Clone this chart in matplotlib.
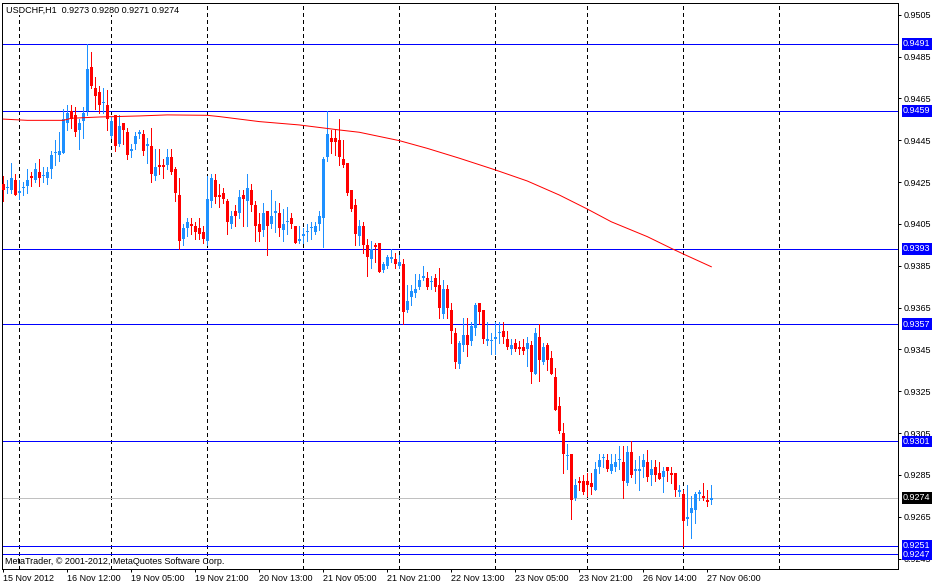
import matplotlib
matplotlib.use('Agg')
import matplotlib.pyplot as plt
import numpy as np
from matplotlib.transforms import blended_transform_factory

plt.rcParams['font.family'] = ['Liberation Sans', 'DejaVu Sans']

title_text = 'USDCHF,H1  0.9273 0.9280 0.9271 0.9274'
copyright_text = 'MetaTrader, © 2001-2012, MetaQuotes Software Corp.'

# hourly bars, 15 Nov 2012 20:00 .. 27 Nov 2012 07:00
opens = [0.9424, 0.9422, 0.9421, 0.9426, 0.9420, 0.9422, 0.9423, 0.9428, 0.9426, 0.9430,
         0.9428, 0.9427, 0.9431, 0.9439, 0.9438, 0.9439, 0.9453, 0.9459, 0.9457, 0.9450,
         0.9454, 0.9459, 0.9480, 0.9470, 0.9468, 0.9463, 0.9462, 0.9447, 0.9457, 0.9443,
         0.9453, 0.9449, 0.9440, 0.9443, 0.9448, 0.9448, 0.9442, 0.9442, 0.9428, 0.9433,
         0.9433, 0.9433, 0.9437, 0.9431, 0.9419, 0.9398, 0.9403, 0.9405, 0.9404, 0.9403,
         0.9401, 0.9397, 0.9416, 0.9426, 0.9419, 0.9420, 0.9416, 0.9405, 0.9411, 0.9410,
         0.9419, 0.9416, 0.9421, 0.9414, 0.9405, 0.9402, 0.9411, 0.9405, 0.9410, 0.9410,
         0.9402, 0.9406, 0.9408, 0.9404, 0.9397, 0.9399, 0.9401, 0.9403, 0.9401, 0.9405,
         0.9408, 0.9437, 0.9446, 0.9446, 0.9445, 0.9436, 0.9434, 0.9421, 0.9414, 0.9399,
         0.9404, 0.9395, 0.9388, 0.9395, 0.9396, 0.9383, 0.9385, 0.9388, 0.9388, 0.9385,
         0.9386, 0.9364, 0.9370, 0.9372, 0.9375, 0.9379, 0.9379, 0.9377, 0.9379, 0.9376,
         0.9362, 0.9374, 0.9364, 0.9353, 0.9338, 0.9347, 0.9352, 0.9349, 0.9355, 0.9367,
         0.9364, 0.9349, 0.9349, 0.9350, 0.9353, 0.9354, 0.9350, 0.9345, 0.9348, 0.9346,
         0.9346, 0.9345, 0.9347, 0.9333, 0.9351, 0.9339, 0.9347, 0.9341, 0.9332, 0.9318,
         0.9305, 0.9294, 0.9295, 0.9274, 0.9282, 0.9282, 0.9282, 0.9281, 0.9278, 0.9289,
         0.9293, 0.9292, 0.9287, 0.9289, 0.9292, 0.9291, 0.9281, 0.9296, 0.9287, 0.9287,
         0.9289, 0.9291, 0.9285, 0.9289, 0.9286, 0.9284, 0.9289, 0.9286, 0.9286, 0.9277,
         0.9276, 0.9264, 0.9267, 0.9268, 0.9276, 0.9275, 0.9273, 0.9273]
highs = [0.9428, 0.9426, 0.9434, 0.9429, 0.9426, 0.9425, 0.9431, 0.9430, 0.9434, 0.9436,
         0.9432, 0.9432, 0.9440, 0.9445, 0.9449, 0.9460, 0.9462, 0.9462, 0.9461, 0.9455,
         0.9461, 0.9491, 0.9487, 0.9475, 0.9471, 0.9470, 0.9469, 0.9456, 0.9457, 0.9457,
         0.9453, 0.9451, 0.9443, 0.9449, 0.9450, 0.9450, 0.9446, 0.9451, 0.9441, 0.9441,
         0.9436, 0.9441, 0.9441, 0.9432, 0.9427, 0.9405, 0.9408, 0.9408, 0.9406, 0.9408,
         0.9404, 0.9428, 0.9429, 0.9429, 0.9424, 0.9422, 0.9417, 0.9411, 0.9414, 0.9421,
         0.9421, 0.9429, 0.9424, 0.9416, 0.9410, 0.9415, 0.9411, 0.9421, 0.9416, 0.9415,
         0.9412, 0.9413, 0.9410, 0.9404, 0.9404, 0.9403, 0.9405, 0.9406, 0.9406, 0.9411,
         0.9437, 0.9459, 0.9450, 0.9450, 0.9455, 0.9445, 0.9434, 0.9421, 0.9417, 0.9407,
         0.9406, 0.9398, 0.9397, 0.9396, 0.9396, 0.9387, 0.9390, 0.9393, 0.9391, 0.9390,
         0.9388, 0.9376, 0.9376, 0.9381, 0.9381, 0.9385, 0.9382, 0.9380, 0.9381, 0.9384,
         0.9378, 0.9376, 0.9367, 0.9355, 0.9349, 0.9360, 0.9360, 0.9358, 0.9367, 0.9367,
         0.9364, 0.9358, 0.9353, 0.9358, 0.9358, 0.9358, 0.9354, 0.9350, 0.9350, 0.9349,
         0.9350, 0.9351, 0.9349, 0.9355, 0.9357, 0.9348, 0.9348, 0.9344, 0.9336, 0.9322,
         0.9310, 0.9300, 0.9295, 0.9283, 0.9284, 0.9285, 0.9286, 0.9286, 0.9291, 0.9295,
         0.9295, 0.9295, 0.9295, 0.9295, 0.9299, 0.9299, 0.9299, 0.9301, 0.9292, 0.9294,
         0.9295, 0.9297, 0.9292, 0.9292, 0.9291, 0.9289, 0.9289, 0.9289, 0.9286, 0.9280,
         0.9278, 0.9280, 0.9275, 0.9277, 0.9278, 0.9281, 0.9278, 0.9280]
lows = [0.9416, 0.9420, 0.9420, 0.9419, 0.9417, 0.9419, 0.9420, 0.9423, 0.9425, 0.9423,
        0.9425, 0.9424, 0.9427, 0.9433, 0.9435, 0.9439, 0.9450, 0.9451, 0.9447, 0.9441,
        0.9446, 0.9457, 0.9470, 0.9460, 0.9458, 0.9458, 0.9450, 0.9446, 0.9440, 0.9442,
        0.9443, 0.9436, 0.9437, 0.9441, 0.9446, 0.9438, 0.9434, 0.9425, 0.9426, 0.9429,
        0.9427, 0.9431, 0.9429, 0.9416, 0.9393, 0.9395, 0.9399, 0.9400, 0.9398, 0.9398,
        0.9396, 0.9395, 0.9413, 0.9415, 0.9413, 0.9415, 0.9400, 0.9403, 0.9404, 0.9408,
        0.9404, 0.9404, 0.9411, 0.9397, 0.9397, 0.9399, 0.9390, 0.9403, 0.9401, 0.9399,
        0.9397, 0.9400, 0.9403, 0.9396, 0.9396, 0.9396, 0.9397, 0.9398, 0.9400, 0.9402,
        0.9394, 0.9435, 0.9439, 0.9438, 0.9433, 0.9432, 0.9419, 0.9411, 0.9395, 0.9395,
        0.9391, 0.9380, 0.9384, 0.9387, 0.9382, 0.9382, 0.9384, 0.9387, 0.9384, 0.9384,
        0.9357, 0.9363, 0.9366, 0.9370, 0.9374, 0.9378, 0.9374, 0.9374, 0.9373, 0.9360,
        0.9360, 0.9360, 0.9348, 0.9336, 0.9336, 0.9344, 0.9342, 0.9347, 0.9352, 0.9357,
        0.9348, 0.9347, 0.9343, 0.9343, 0.9348, 0.9348, 0.9345, 0.9343, 0.9344, 0.9343,
        0.9343, 0.9337, 0.9329, 0.9333, 0.9330, 0.9338, 0.9335, 0.9333, 0.9316, 0.9305,
        0.9286, 0.9288, 0.9264, 0.9273, 0.9278, 0.9276, 0.9275, 0.9276, 0.9278, 0.9286,
        0.9289, 0.9287, 0.9286, 0.9287, 0.9288, 0.9274, 0.9280, 0.9284, 0.9281, 0.9278,
        0.9284, 0.9282, 0.9280, 0.9282, 0.9283, 0.9277, 0.9282, 0.9281, 0.9275, 0.9275,
        0.9251, 0.9261, 0.9255, 0.9262, 0.9273, 0.9273, 0.9270, 0.9271]
closes = [0.9421, 0.9422, 0.9427, 0.9419, 0.9420, 0.9422, 0.9426, 0.9427, 0.9431, 0.9427,
          0.9428, 0.9430, 0.9438, 0.9439, 0.9440, 0.9455, 0.9458, 0.9455, 0.9449, 0.9453,
          0.9458, 0.9479, 0.9471, 0.9466, 0.9462, 0.9463, 0.9455, 0.9454, 0.9442, 0.9452,
          0.9450, 0.9438, 0.9441, 0.9447, 0.9449, 0.9440, 0.9443, 0.9429, 0.9432, 0.9432,
          0.9432, 0.9437, 0.9430, 0.9420, 0.9397, 0.9403, 0.9406, 0.9404, 0.9401, 0.9400,
          0.9398, 0.9417, 0.9427, 0.9418, 0.9418, 0.9417, 0.9406, 0.9409, 0.9409, 0.9418,
          0.9417, 0.9422, 0.9414, 0.9404, 0.9401, 0.9410, 0.9404, 0.9409, 0.9411, 0.9403,
          0.9405, 0.9406, 0.9405, 0.9396, 0.9398, 0.9400, 0.9401, 0.9403, 0.9404, 0.9409,
          0.9436, 0.9448, 0.9444, 0.9444, 0.9437, 0.9433, 0.9420, 0.9412, 0.9400, 0.9404,
          0.9395, 0.9389, 0.9393, 0.9394, 0.9382, 0.9386, 0.9389, 0.9389, 0.9386, 0.9387,
          0.9363, 0.9368, 0.9373, 0.9374, 0.9378, 0.9380, 0.9375, 0.9377, 0.9375, 0.9365,
          0.9374, 0.9365, 0.9354, 0.9339, 0.9348, 0.9352, 0.9347, 0.9356, 0.9366, 0.9363,
          0.9350, 0.9350, 0.9349, 0.9351, 0.9353, 0.9351, 0.9346, 0.9347, 0.9345, 0.9345,
          0.9344, 0.9348, 0.9334, 0.9353, 0.9340, 0.9346, 0.9340, 0.9333, 0.9316, 0.9306,
          0.9295, 0.9294, 0.9273, 0.9280, 0.9281, 0.9277, 0.9280, 0.9279, 0.9288, 0.9292,
          0.9293, 0.9288, 0.9290, 0.9291, 0.9292, 0.9282, 0.9296, 0.9285, 0.9288, 0.9288,
          0.9292, 0.9284, 0.9288, 0.9285, 0.9283, 0.9287, 0.9287, 0.9285, 0.9278, 0.9278,
          0.9263, 0.9265, 0.9269, 0.9276, 0.9277, 0.9274, 0.9272, 0.9274]

ma_bars = [0, 6, 15, 17, 24, 34, 41, 51, 54, 59, 64, 69, 74, 79, 84, 89,
           99, 106, 114, 123, 131, 139, 146, 152, 161, 167, 170, 177]
ma_values = [0.94551, 0.94545, 0.94545, 0.94555, 0.94561, 0.94566, 0.94571, 0.94569,
             0.94563, 0.94551, 0.94539, 0.94531, 0.94523, 0.94511, 0.94499, 0.94488,
             0.94448, 0.94411, 0.94364, 0.94308, 0.94255, 0.94188, 0.94121, 0.94060,
             0.93989, 0.93933, 0.93906, 0.93845]

level_prices = [0.9491, 0.9459, 0.9393, 0.9357, 0.9301, 0.9251, 0.9247]
bid_price = 0.9274

price_ticks = [0.9245, 0.9265, 0.9285, 0.9305, 0.9325, 0.9345, 0.9365, 0.9385,
               0.9405, 0.9425, 0.9445, 0.9465, 0.9485, 0.9505]
time_label_bars = [0, 16, 32, 48, 64, 80, 96, 112, 128, 144, 160, 176]
time_labels = ['15 Nov 2012', '16 Nov 12:00', '19 Nov 05:00', '19 Nov 21:00',
               '20 Nov 13:00', '21 Nov 05:00', '21 Nov 21:00', '22 Nov 13:00',
               '23 Nov 05:00', '23 Nov 21:00', '26 Nov 14:00', '27 Nov 06:00']
day_start_bars = [4, 27, 51, 75, 99, 123, 146, 170, 194]

W, H = 936, 586
PX = 0.72  # one pixel in points
fig = plt.figure(figsize=(W / 100, H / 100), dpi=100)
fig.patch.set_facecolor('white')
ax = fig.add_axes([2 / W, 17 / H, 896 / W, 566 / H])
ax.set_facecolor('white')
ax.set_xlim(-0.325, 223.675)
ax.set_ylim(0.92400, 0.95106)

o = np.array(opens)
h = np.array(highs)
l = np.array(lows)
c = np.array(closes)
x = np.arange(len(o))
cols = np.where(c >= o, '#1E90FF', '#FF0000')

for b in day_start_bars:
    ax.axvline(b, color='black', lw=PX, dashes=(4, 3), antialiased=False, zorder=1)

for p in level_prices:
    ax.axhline(p, color='#0000FF', lw=PX, antialiased=False, zorder=2)
ax.axhline(bid_price, color='#C0C0C0', lw=PX, antialiased=False, zorder=2)

ax.vlines(x, l, h, colors=cols, lw=PX, antialiased=False, zorder=3)
body_low = np.minimum(o, c)
body_h = np.maximum(np.abs(c - o), 0.00005)
ax.bar(x, body_h, bottom=body_low, width=0.75, color=cols, linewidth=0,
       antialiased=False, zorder=4)

ax.plot(ma_bars, ma_values, color='#FF0000', lw=PX, zorder=5)

# right price scale
ax.yaxis.tick_right()
ax.set_yticks(price_ticks)
ax.set_yticklabels([f'{v:.4f}' for v in price_ticks])
ax.tick_params(axis='y', length=2.2, width=PX, pad=1.5, labelsize=6.5, colors='black')

ax.set_xticks(time_label_bars)
ax.set_xticklabels(time_labels, ha='left')
ax.tick_params(axis='x', length=2.5, width=PX, pad=1.2, labelsize=6.5, colors='black')

for s in ax.spines.values():
    s.set_color('black')
    s.set_linewidth(PX)

trans = blended_transform_factory(ax.transAxes, ax.transData)
lx = (903 - 2) / 896
for p in level_prices:
    ax.text(lx, p, f'{p:.4f}', transform=trans, ha='left', va='center', fontsize=6.5,
            color='white', clip_on=False, zorder=10,
            bbox=dict(boxstyle='square,pad=0.15', fc='#0000FF', ec='none'))
ax.text(lx, bid_price, f'{bid_price:.4f}', transform=trans, ha='left', va='center',
        fontsize=6.5, color='white', clip_on=False, zorder=10,
        bbox=dict(boxstyle='square,pad=0.15', fc='black', ec='none'))

fig.text(6 / W, 1 - 10 / H, title_text, ha='left', va='center', fontsize=6.5, color='black',
         bbox=dict(boxstyle='square,pad=0.1', fc='white', ec='none'))
fig.text(5 / W, 1 - 561 / H, copyright_text, ha='left', va='center', fontsize=6.5, color='black')

fig.savefig('out.png', dpi=100, facecolor='white')
